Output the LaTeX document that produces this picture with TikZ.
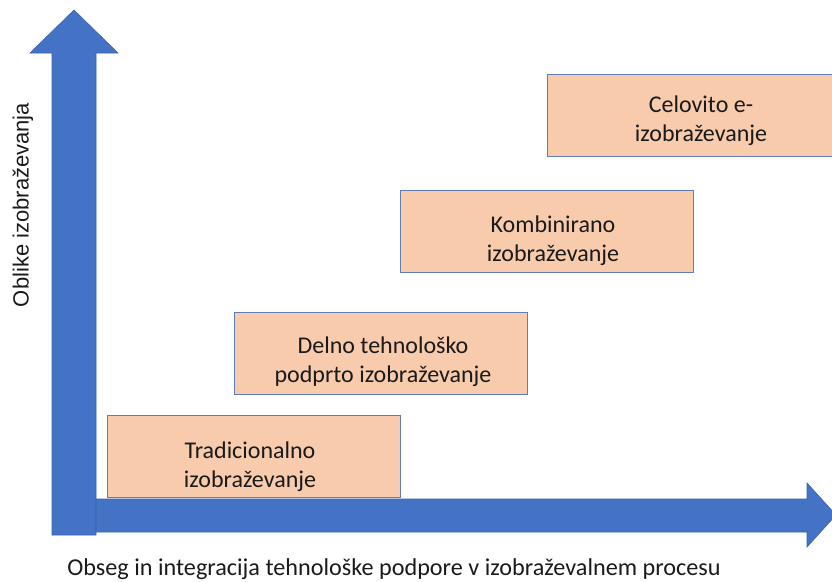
\documentclass[tikz,border=0pt]{standalone}
\usepackage{fontspec}
\setmainfont{Carlito}
\newfontfamily\arialfont{Liberation Sans}
\definecolor{arrowblue}{HTML}{4472C4}
\definecolor{arrowedge}{HTML}{3A63AD}
\definecolor{boxfill}{HTML}{F8CBAD}
\definecolor{boxedge}{HTML}{5F7DB8}
\definecolor{txt}{HTML}{1A1A1A}
\begin{document}
\begin{tikzpicture}[x=1pt,y=-1pt,
  axisarrow/.style={fill=arrowblue,draw=arrowedge,line width=0.6pt,line join=miter},
  stagebox/.style={rectangle,fill=boxfill,draw=boxedge,line width=0.8pt,minimum width=293pt,minimum height=82pt,inner sep=0pt},
  stagetext/.style={align=center,text=txt,inner sep=0pt,font=\fontsize{24}{29}\selectfont},
  axislabel/.style={text=txt,inner sep=0pt}]
\useasboundingbox (0,0) rectangle (832,581);
% vertical axis arrow
\draw[axisarrow] (52,535) -- (52,53) -- (30,53) -- (74,10) -- (118,53) -- (96,53) -- (96,535) -- cycle;
% horizontal axis arrow
\begin{scope}
\clip (0,0) rectangle (832,581);
\draw[axisarrow] (96,499) -- (807,499) -- (807,483) -- (836,515) -- (807,547) -- (807,532) -- (96,532) -- cycle;
\end{scope}
% stage boxes
\node[stagebox] (b1) at (253.5,456) {};
\node[stagebox] (b2) at (380.5,353) {};
\node[stagebox] (b3) at (546.5,231.5) {};
\node[stagebox] (b4) at (693.5,115) {};
\node[stagetext] (t1) at (250,467) {Tradicionalno\\izobraževanje};
\node[stagetext] (t2) at (383,362) {Delno tehnološko\\podprto izobraževanje};
\node[stagetext] (t3) at (553,241) {Kombinirano\\izobraževanje};
\node[stagetext] (t4) at (701,120.5) {Celovito e-\\izobraževanje};
% axis labels
\node[axislabel,rotate=90,font=\arialfont\fontsize{22}{26}\selectfont] (ly) at (23,205) {Oblike izobraževanja};
\node[axislabel,font=\fontsize{24.2}{28}\selectfont] (lx) at (394,569) {Obseg in integracija tehnološke podpore v izobraževalnem procesu};
\end{tikzpicture}
\end{document}
